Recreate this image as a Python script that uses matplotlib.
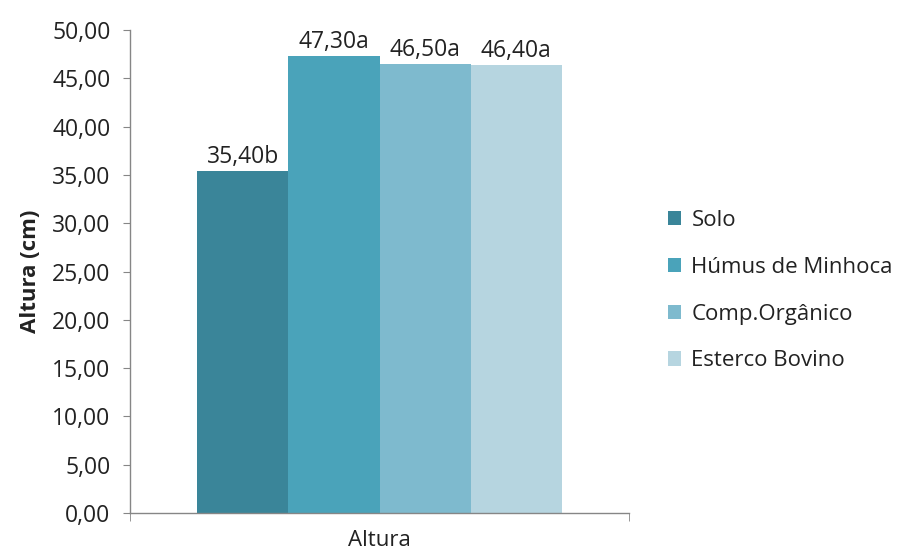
import matplotlib
matplotlib.use("Agg")
import matplotlib.pyplot as plt
from matplotlib.ticker import FuncFormatter, FixedLocator

plt.rcParams['font.family'] = ['Open Sans', 'DejaVu Sans']

categories = ["Altura"]
series = ["Solo", "Húmus de Minhoca", "Comp.Orgânico", "Esterco Bovino"]
values = [35.40, 47.30, 46.50, 46.40]
letters = ["b", "a", "a", "a"]
colors = ["#3A8599", "#4AA3BA", "#7EBACE", "#B6D5E0"]

FS = 16.5
TXT = "#222222"

fig = plt.figure(figsize=(9.06, 5.56), dpi=100)
ax = fig.add_axes([130/906, 1-513/556, (629-130)/906, (513-30)/556])

w = 0.1825
n = len(series)
for i, (s, v, c, l) in enumerate(zip(series, values, colors, letters)):
    x = (i - (n-1)/2) * w
    ax.bar(x, v, width=w, color=c, label=s, zorder=2)
    ax.text(x, v + 0.2, f"{v:.2f}".replace(".", ",") + l, ha="center", va="bottom",
            fontsize=FS, color=TXT)

ax.set_xlim(-0.5, 0.5)
ax.set_ylim(0, 50)
ax.set_yticks([i*5 for i in range(11)])
ax.yaxis.set_major_formatter(FuncFormatter(lambda v, p: f"{v:.2f}".replace(".", ",")))
ax.set_xticks([0])
ax.set_xticklabels(categories)
ax.xaxis.set_minor_locator(FixedLocator([-0.5, 0.5]))
ax.tick_params(axis="x", which="major", length=0, pad=12, labelsize=16, colors=TXT)
ax.tick_params(axis="x", which="minor", length=6, direction="out", color="#868686")
ax.tick_params(axis="y", length=5, direction="out", color="#868686", labelsize=FS,
               labelcolor=TXT, pad=9)
for sp in ["top", "right"]:
    ax.spines[sp].set_visible(False)
for sp in ["left", "bottom"]:
    ax.spines[sp].set_color("#868686")
    ax.spines[sp].set_linewidth(1.0)

ax.set_ylabel("Altura (cm)", fontsize=16, fontweight="bold", color=TXT, labelpad=8)

fig.legend(loc="upper left", bbox_to_anchor=(648/906, 1-190/556), frameon=False,
           fontsize=16, handlelength=0.6, handleheight=0.6, handletextpad=0.45,
           labelspacing=1.16, labelcolor=TXT)

fig.savefig("out.png", dpi=100)
